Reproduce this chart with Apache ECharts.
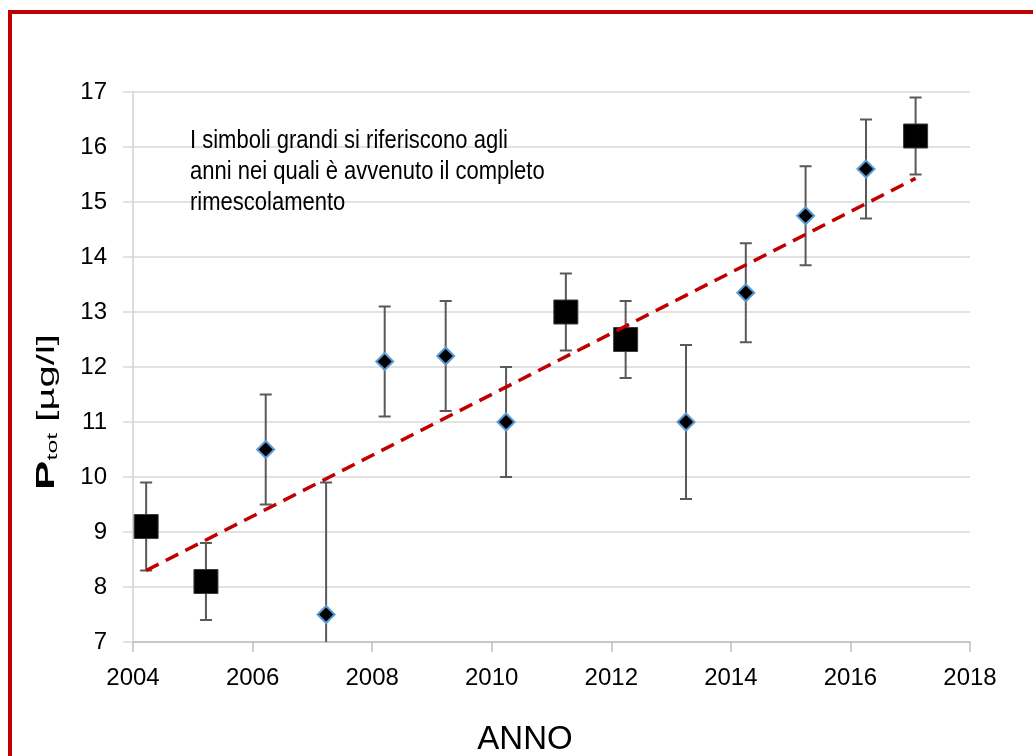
<!DOCTYPE html>
<html>
<head>
<meta charset="utf-8">
<script src="https://cdn.jsdelivr.net/npm/echarts@6/dist/echarts.min.js"></script>
<style>
html,body{margin:0;padding:0;background:#fff;overflow:hidden;}
#frame{position:absolute;left:8px;top:10px;width:1100px;height:800px;border:4px solid #c00000;box-sizing:border-box;}
#chart{position:absolute;left:0;top:0;width:1033px;height:756px;}
</style>
</head>
<body>
<div id="frame"></div>
<div id="chart"></div>
<script>
// Large symbols: years of complete mixing
const yearsBig = [2004.22, 2005.22, 2011.24, 2012.24, 2017.09];
const valuesBig = [9.1, 8.1, 13.0, 12.5, 16.2];
const lowBig = [8.3, 7.4, 12.3, 11.8, 15.5];
const highBig = [9.9, 8.8, 13.7, 13.2, 16.9];
// Small symbols
const yearsSmall = [2006.22, 2007.23, 2008.21, 2009.23, 2010.24, 2013.25, 2014.25, 2015.25, 2016.26];
const valuesSmall = [10.5, 7.5, 12.1, 12.2, 11.0, 11.0, 13.35, 14.75, 15.6];
const lowSmall = [9.5, 5.1, 11.1, 11.2, 10.0, 9.6, 12.45, 13.85, 14.7];
const highSmall = [11.5, 9.9, 13.1, 13.2, 12.0, 12.4, 14.25, 15.65, 16.5];
// Linear trend line endpoints
const trendX = [2004.22, 2017.09];
const trendY = [8.3, 15.43];
// Axis ticks
const xTicks = [2004, 2006, 2008, 2010, 2012, 2014, 2016, 2018];
const yTicks = [7, 8, 9, 10, 11, 12, 13, 14, 15, 16, 17];
const noteLines = ['I simboli grandi si riferiscono agli', 'anni nei quali è avvenuto il completo', 'rimescolamento'];

const pts = (xs, ys) => xs.map((x, i) => [x, ys[i]]);
const errData = yearsBig.map((x, i) => [x, lowBig[i], highBig[i]])
  .concat(yearsSmall.map((x, i) => [x, lowSmall[i], highSmall[i]]));

const font = "'Liberation Sans', Arial, sans-serif";

const chart = echarts.init(document.getElementById('chart'), null, {renderer: 'canvas'});
chart.setOption({
  animation: false,
  backgroundColor: 'transparent',
  grid: {left: 133, right: 63, top: 92, bottom: 114, containLabel: false},
  xAxis: {
    type: 'value', min: xTicks[0], max: xTicks[xTicks.length - 1], interval: 2,
    axisLine: {show: true, lineStyle: {color: '#bfbfbf', width: 1.5}},
    axisTick: {show: true, length: 10, lineStyle: {color: '#bfbfbf', width: 1.5}},
    axisLabel: {margin: 24, color: '#000', fontSize: 24, fontFamily: font, formatter: v => String(v)},
    splitLine: {show: false}
  },
  yAxis: {
    type: 'value', min: yTicks[0], max: yTicks[yTicks.length - 1], interval: 1,
    axisLine: {show: true, lineStyle: {color: '#d0d0d0', width: 1.5}},
    axisTick: {show: true, length: 10, lineStyle: {color: '#d9d9d9', width: 1.5}},
    axisLabel: {margin: 26, color: '#000', fontSize: 24, fontFamily: font, formatter: v => String(v)},
    splitLine: {show: true, lineStyle: {color: '#d9d9d9', width: 1.5}}
  },
  graphic: [
    {
      type: 'text', x: 190, y: 126, scaleX: 0.88, z: 100,
      style: {text: noteLines.join('\n'), fontSize: 25, lineHeight: 31, fill: '#000', fontFamily: font, align: 'left', verticalAlign: 'top'}
    },
    {
      type: 'text', x: 525, y: 740, z: 100,
      style: {text: 'ANNO', fontSize: 33, fill: '#000', fontFamily: font, align: 'center', verticalAlign: 'middle'}
    },
    {
      type: 'text', x: 47, y: 412, rotation: Math.PI / 2, scaleY: 0.6, z: 100,
      style: {
        text: '{p|P}{s|tot}{u| [µg/l]}',
        align: 'center', verticalAlign: 'middle',
        fontFamily: font,
        rich: {
          p: {fontSize: 44, fontWeight: 'bold', fill: '#000', fontFamily: font, lineHeight: 46},
          s: {fontSize: 25, fill: '#000', fontFamily: font, lineHeight: 46, verticalAlign: 'bottom'},
          u: {fontSize: 40, fill: '#000', fontFamily: font, lineHeight: 46}
        }
      }
    }
  ],
  series: [
    {
      type: 'custom', name: 'err', data: errData, clip: true, z: 2,
      renderItem: (params, api) => {
        const x = api.value(0);
        const lo = api.coord([x, api.value(1)]);
        const hi = api.coord([x, api.value(2)]);
        const cw = 6;
        const style = {stroke: '#595959', lineWidth: 2};
        return {type: 'group', children: [
          {type: 'line', shape: {x1: lo[0], y1: lo[1], x2: hi[0], y2: hi[1]}, style},
          {type: 'line', shape: {x1: lo[0] - cw, y1: lo[1], x2: lo[0] + cw, y2: lo[1]}, style},
          {type: 'line', shape: {x1: hi[0] - cw, y1: hi[1], x2: hi[0] + cw, y2: hi[1]}, style}
        ]};
      }
    },
    {
      type: 'scatter', name: 'small', data: pts(yearsSmall, valuesSmall), symbol: 'diamond', symbolSize: 17, z: 3,
      itemStyle: {color: '#000', borderColor: '#5b9bd5', borderWidth: 2, opacity: 1}
    },
    {
      type: 'scatter', name: 'big', data: pts(yearsBig, valuesBig), symbol: 'rect', symbolSize: 24, z: 3,
      itemStyle: {color: '#000', borderColor: '#3a3a3a', borderWidth: 1, opacity: 1}
    },
    {
      type: 'line', name: 'trend', data: pts(trendX, trendY), showSymbol: false, symbol: 'none', z: 4,
      lineStyle: {color: '#c00000', width: 3.5, type: [14, 8]}
    }
  ]
});
</script>
</body>
</html>
